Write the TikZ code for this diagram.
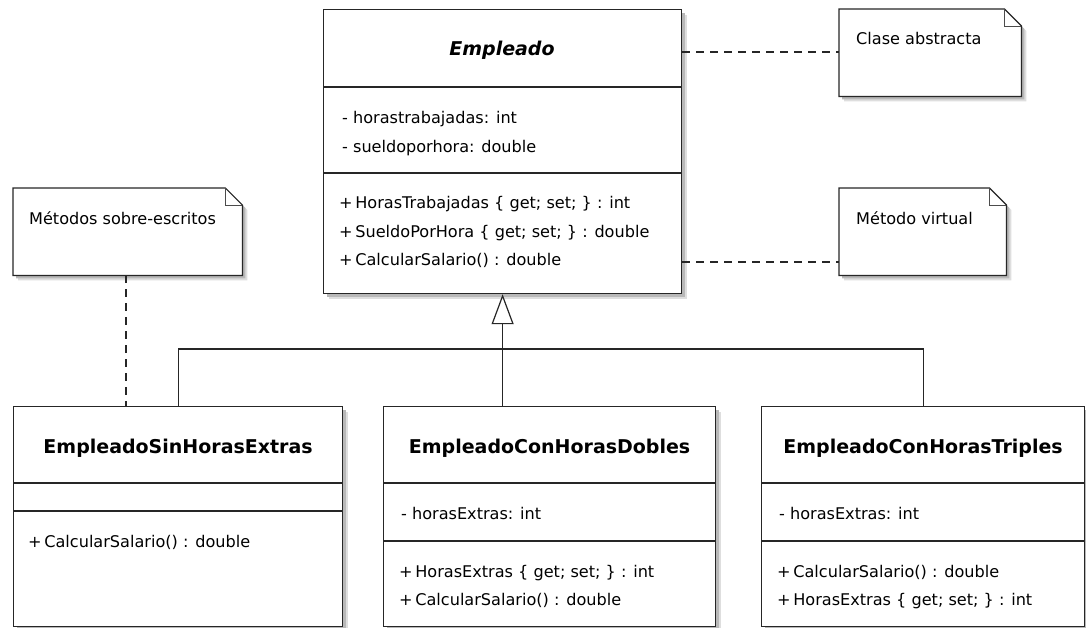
\documentclass[tikz,border=0pt]{standalone}
\usepackage{fontspec}
\setmainfont{DejaVu Sans}
\usetikzlibrary{arrows.meta,shadows}
\begin{document}
\begin{tikzpicture}[x=1pt,y=-1pt,
  ink/.style={draw=black!85, line width=1.2pt},
  shd/.style={drop shadow={shadow xshift=5pt, shadow yshift=-5pt, fill=black!13, opacity=1},
              drop shadow={shadow xshift=3pt, shadow yshift=-3pt, fill=black!28, opacity=1}},
  classbox/.style={rectangle, ink, fill=white, inner sep=0pt, anchor=north west, shd},
  noteanchor/.style={rectangle, draw=none, inner sep=0pt, anchor=north west},
  notepath/.style={ink, fill=white, shd},
  foldline/.style={draw=black!70, line width=0.8pt},
  dashline/.style={draw=black!85, line width=1.2pt, dash pattern=on 8pt off 6pt},
  compline/.style={ink},
  txt/.style={inner sep=0pt, anchor=base west, font=\fontsize{16.1}{19}\selectfont, text=black},
  ttl/.style={inner sep=0pt, anchor=base, font=\fontsize{19}{22}\selectfont\bfseries, text=black},
  gen/.style={ink, -{Triangle[open, length=30pt, width=22pt, line width=1.2pt, fill=white]}}
]
\useasboundingbox (0,0) rectangle (1086,627);

% ---------- Empleado ----------
\node[classbox, minimum width=358pt, minimum height=284pt] (emp) at (323,9) {};
\draw[compline] (emp.west |- 0,87) -- (emp.east |- 0,87);
\draw[compline] (emp.west |- 0,173) -- (emp.east |- 0,173);
\node[ttl, font=\fontsize{19}{22}\selectfont\bfseries\itshape] (empt) at (502,55) {Empleado};
\node[txt] (ea1) at (342,123) {- horastrabajadas: int};
\node[txt] (ea2) at (342,152) {- sueldoporhora: double};
\node[txt] (em1) at (339,208) {+\,HorasTrabajadas \{ get; set; \} : int};
\node[txt] (em2) at (339,237) {+\,SueldoPorHora \{ get; set; \} : double};
\node[txt] (em3) at (339,265) {+\,CalcularSalario() : double};

% ---------- Notes ----------
\node[noteanchor, minimum width=182pt, minimum height=87pt] (n1) at (839,9) {};
\node[noteanchor, minimum width=167pt, minimum height=87pt] (n2) at (839,188) {};
\node[noteanchor, minimum width=229pt, minimum height=87pt] (n3) at (13,188) {};
\foreach \n in {n1,n2,n3}{
  \filldraw[notepath] (\n.north west) -- ([xshift=-17pt]\n.north east) -- ([yshift=-17pt]\n.north east)
     -- (\n.south east) -- (\n.south west) -- cycle;
  \draw[foldline] ([xshift=-17pt]\n.north east) |- ([yshift=-17pt]\n.north east);
}
\node[txt] (n1t) at (856,44) {Clase abstracta};
\node[txt] (n2t) at (856,224) {Método virtual};
\node[txt] (n3t) at (29,224) {Métodos sobre-escritos};

% ---------- Subclasses ----------
\node[classbox, minimum width=329pt, minimum height=220pt] (s1) at (13,406) {};
\draw[compline] (s1.west |- 0,483) -- (s1.east |- 0,483);
\draw[compline] (s1.west |- 0,511) -- (s1.east |- 0,511);
\node[ttl] (s1t) at (s1.center |- 0,453) {EmpleadoSinHorasExtras};
\node[txt] (s1m1) at (28,547) {+\,CalcularSalario() : double};

\node[classbox, minimum width=332pt, minimum height=220pt] (s2) at (383,406) {};
\draw[compline] (s2.west |- 0,483) -- (s2.east |- 0,483);
\draw[compline] (s2.west |- 0,541) -- (s2.east |- 0,541);
\node[ttl] (s2t) at (s2.center |- 0,453) {EmpleadoConHorasDobles};
\node[txt] (s2a1) at (401,519) {- horasExtras: int};
\node[txt] (s2m1) at (399,577) {+\,HorasExtras \{ get; set; \} : int};
\node[txt] (s2m2) at (399,605) {+\,CalcularSalario() : double};

\node[classbox, minimum width=323pt, minimum height=220pt] (s3) at (761,406) {};
\draw[compline] (s3.west |- 0,483) -- (s3.east |- 0,483);
\draw[compline] (s3.west |- 0,541) -- (s3.east |- 0,541);
\node[ttl] (s3t) at (s3.center |- 0,453) {EmpleadoConHorasTriples};
\node[txt] (s3a1) at (779,519) {- horasExtras: int};
\node[txt] (s3m1) at (777,577) {+\,CalcularSalario() : double};
\node[txt] (s3m2) at (777,605) {+\,HorasExtras \{ get; set; \} : int};

% ---------- Generalization ----------
\coordinate (hub) at (502,349);
\draw[ink] (s1.north) |- (hub) -| (s3.north);
\draw[gen] (s2.north -| emp.south) -- (emp.south);

% ---------- Note links ----------
\draw[dashline] (emp.east |- 0,52) -- (n1.west |- 0,52);
\draw[dashline] (emp.east |- 0,262) -- (n2.west |- 0,262);
\draw[dashline] (n3.south -| 126,0) -- (s1.north -| 126,0);
\end{tikzpicture}
\end{document}
